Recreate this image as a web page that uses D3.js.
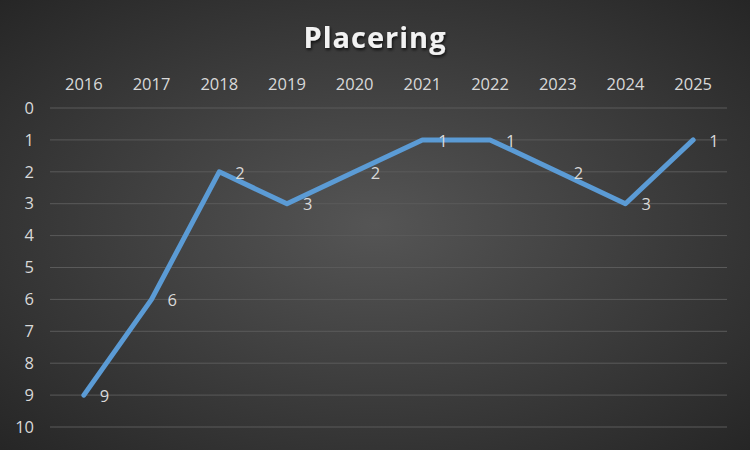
<!DOCTYPE html>
<html><head><meta charset="utf-8">
<script src="https://cdn.jsdelivr.net/npm/d3@7"></script>
<style>body{margin:0;background:#333}svg{display:block}</style>
</head><body>
<script>
const years = ["2016","2017","2018","2019","2020","2021","2022","2023","2024","2025"];
const placering = [9,6,2,3,2,1,1,2,3,1];
const yTicks = [0,1,2,3,4,5,6,7,8,9,10];
const title = "Placering";

const W = 750, H = 450;
const svg = d3.select("body").append("svg").attr("width", W).attr("height", H);
const defs = svg.append("defs");
const rg = defs.append("radialGradient").attr("id","bg").attr("cx","50%").attr("cy","50%").attr("r","75%");
rg.append("stop").attr("offset","0%").attr("stop-color","#555555");
rg.append("stop").attr("offset","100%").attr("stop-color","#232323");
const f = defs.append("filter").attr("id","sh").attr("x","-10%").attr("y","-30%").attr("width","120%").attr("height","160%");
f.append("feDropShadow").attr("dx",1).attr("dy",2).attr("stdDeviation",1.5).attr("flood-color","#000").attr("flood-opacity",0.7);

svg.append("rect").attr("width",W).attr("height",H).attr("fill","url(#bg)");

const x = d3.scaleBand().domain(years).range([50, 727]);
const y = d3.scaleLinear().domain([0,10]).range([108, 427]);

const font = "'Open Sans', 'Noto Sans', sans-serif";

svg.append("text").attr("x", 375).attr("y", 48).attr("text-anchor","middle")
  .attr("fill","#f2f2f2").attr("font-family",font).attr("font-weight","bold")
  .attr("font-size",29).attr("letter-spacing",1).attr("filter","url(#sh)").text(title);

const grid = svg.append("g");
grid.selectAll("line").data(yTicks).join("line")
  .attr("x1",50).attr("x2",727).attr("y1",d=>y(d)).attr("y2",d=>y(d))
  .attr("stroke","#5a5a5a").attr("stroke-width",1);

const xAxis = svg.append("g").attr("transform","translate(0,84)")
  .call(d3.axisTop(x).tickSize(0).tickPadding(0));
xAxis.select(".domain").remove();
xAxis.selectAll("text").attr("fill","#d9d9d9").attr("font-family",font).attr("font-size",16.5).attr("dy","0.35em");

const yAxis = svg.append("g").attr("transform","translate(34,0)")
  .call(d3.axisLeft(y).tickValues(yTicks).tickSize(0).tickPadding(0).tickFormat(d3.format("d")));
yAxis.select(".domain").remove();
yAxis.selectAll("text").attr("fill","#d9d9d9").attr("font-family",font).attr("font-size",16.5);

const line = d3.line().x((d,i)=>x(years[i])+x.bandwidth()/2).y(d=>y(d));
svg.append("path").datum(placering).attr("d",line).attr("fill","none")
  .attr("stroke","#5b9bd5").attr("stroke-width",5).attr("stroke-linecap","round").attr("stroke-linejoin","round");

svg.append("g").selectAll("text").data(placering).join("text")
  .attr("x",(d,i)=>x(years[i])+x.bandwidth()/2+16)
  .attr("y",d=>y(d)+1).attr("dy","0.35em")
  .attr("fill","#d9d9d9").attr("font-family",font).attr("font-size",16.5).text(d=>d);
</script>
</body></html>
